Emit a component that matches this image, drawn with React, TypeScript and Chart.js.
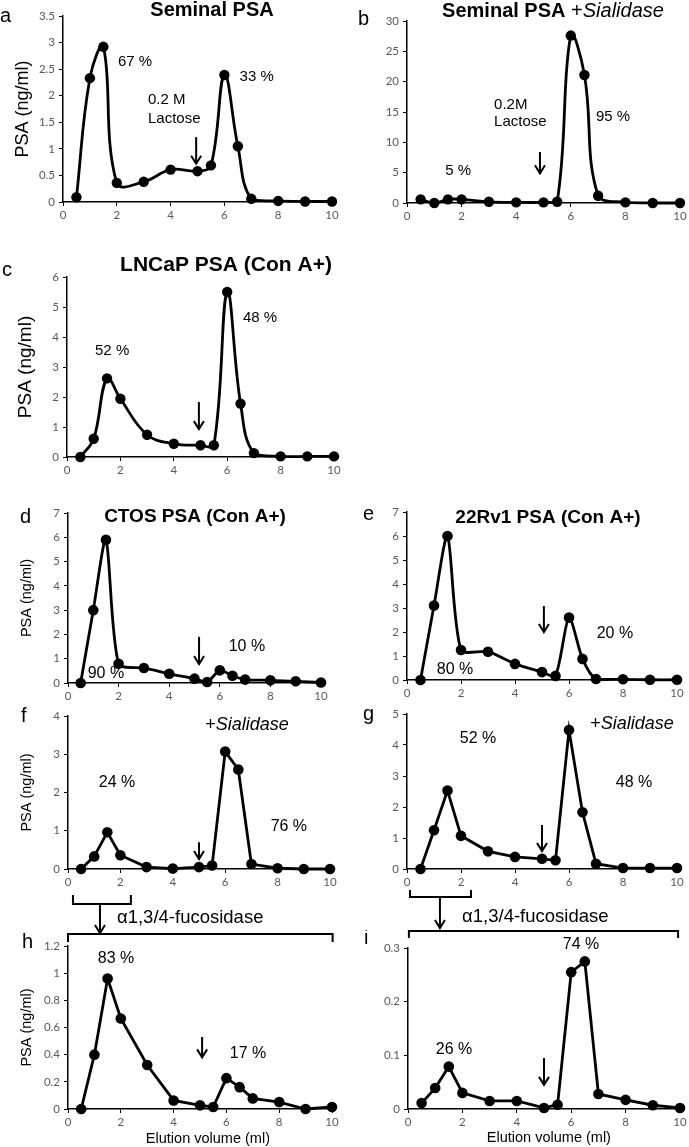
import React, { useEffect, useRef } from "react";
import { Chart, registerables } from "chart.js";

Chart.register(...registerables);

// ---------- DATA ----------
const elution = [0.5, 1, 1.5, 2, 3, 4, 5, 5.5, 6, 6.5, 7, 8, 9, 10];
const xTickValues = [0, 2, 4, 6, 8, 10];

const seminalPSA = [0.09, 2.33, 2.92, 0.36, 0.38, 0.61, 0.58, 0.69, 2.39, 1.05, 0.06, 0.02, 0.01, 0.01];
const seminalSialidase = [0.6, 0.0, 0.6, 0.6, 0.2, 0.1, 0.1, 0.2, 27.6, 21.1, 1.2, 0.1, 0.0, 0.0];
const lncapPSA = [0.0, 0.61, 2.62, 1.94, 0.74, 0.44, 0.39, 0.39, 5.5, 1.78, 0.13, 0.02, 0.02, 0.02];
const ctosPSA = [0.0, 3.0, 5.9, 0.79, 0.62, 0.38, 0.18, 0.04, 0.52, 0.3, 0.14, 0.11, 0.07, 0.02];
const rv1PSA = [0.0, 3.1, 6.0, 1.25, 1.18, 0.67, 0.33, 0.17, 2.6, 0.88, 0.04, 0.03, 0.01, 0.01];
const ctosSialidase = [0.0, 0.33, 0.96, 0.36, 0.05, 0.01, 0.05, 0.09, 3.07, 2.6, 0.13, 0.02, 0.0, 0.0];
const rv1Sialidase = [0.0, 1.25, 2.53, 1.07, 0.57, 0.39, 0.33, 0.28, 4.48, 1.83, 0.17, 0.03, 0.03, 0.03];
const ctosFucosidase = [0.0, 0.4, 0.96, 0.666, 0.324, 0.063, 0.027, 0.015, 0.227, 0.161, 0.078, 0.051, 0.0, 0.015];
const rv1Fucosidase = [0.011, 0.039, 0.079, 0.03, 0.015, 0.015, 0.002, 0.008, 0.255, 0.275, 0.028, 0.017, 0.007, 0.002];

const yAxisTitle = "PSA (ng/ml)";
const xAxisTitle = "Elution volume (ml)";
const enzymeLabel = "\u03b11,3/4-fucosidase";

// ---------- STYLE ----------
const SANS = '"Liberation Sans", Arial, sans-serif';
const TICKFONT = 'Lato, "Open Sans", sans-serif';
const TICK_COLOR = "#595959";

type Seg = { text: string; style: string };
type Note = { text: string; x: number; y: number; align?: CanvasTextAlign };
type Arrow = { x: number; y1: number; y2: number };
type Bracket = {
  x1: number; x2: number; top: number; mid: number;
  ax: number; aEnd: number;
  bx1: number; bx2: number; big: number; tickEnd: number;
  textX: number; textOff: number;
};
interface PanelDef {
  key: string;
  letter: string;
  letterPos: [number, number];
  title?: Seg[];
  titleSize?: number;
  titlePos?: [number, number];
  values: number[];
  yMax: number;
  yStep: number;
  tension: number;
  box: [number, number, number, number];
  area: [number, number, number, number];
  notes: Note[];
  noteSize: number;
  arrows: Arrow[];
  yTitle?: { size: number; x: number };
  xTitle?: { x: number; y: number };
  bracket?: Bracket;
  pointRadius: number;
}

const panels: PanelDef[] = [
  {
    key: "a", letter: "a", letterPos: [0, 22],
    title: [{ text: "Seminal PSA", style: "bold" }], titleSize: 20, titlePos: [212, 10],
    values: seminalPSA, yMax: 3.5, yStep: 0.5, tension: 0.4,
    box: [0, 0, 345, 225], area: [63, 16, 332, 202],
    notes: [
      { text: "67 %", x: 2.68, y: 2.64 },
      { text: "33 %", x: 7.2, y: 2.35 },
      { text: "0.2 M", x: 3.16, y: 1.92, align: "left" },
      { text: "Lactose", x: 3.16, y: 1.56, align: "left" },
    ],
    noteSize: 15,
    arrows: [{ x: 4.95, y1: 1.22, y2: 0.72 }],
    yTitle: { size: 18, x: 23 }, pointRadius: 5.2,
  },
  {
    key: "b", letter: "b", letterPos: [358, 25],
    title: [
      { text: "Seminal PSA ", style: "bold" },
      { text: "+", style: "" },
      { text: "Sialidase", style: "italic" },
    ],
    titleSize: 20, titlePos: [553, 11],
    values: seminalSialidase, yMax: 30, yStep: 5, tension: 0.4,
    box: [345, 0, 344, 225], area: [407, 21, 680, 203],
    notes: [
      { text: "5 %", x: 1.87, y: 5.3 },
      { text: "95 %", x: 7.55, y: 14.2 },
      { text: "0.2M", x: 3.19, y: 16.1, align: "left" },
      { text: "Lactose", x: 3.19, y: 13.3, align: "left" },
    ],
    noteSize: 15,
    arrows: [{ x: 4.87, y1: 8.4, y2: 4.9 }], pointRadius: 5.2,
  },
  {
    key: "c", letter: "c", letterPos: [2, 276],
    title: [{ text: "LNCaP PSA (Con A+)", style: "bold" }], titleSize: 21, titlePos: [226, 265],
    values: lncapPSA, yMax: 6, yStep: 1, tension: 0.4,
    box: [0, 240, 345, 240], area: [67, 277, 334, 457],
    notes: [
      { text: "52 %", x: 1.69, y: 3.53 },
      { text: "48 %", x: 7.23, y: 4.63 },
    ],
    noteSize: 15,
    arrows: [{ x: 4.94, y1: 1.83, y2: 0.93 }],
    yTitle: { size: 19, x: 26 }, pointRadius: 5.2,
  },
  {
    key: "d", letter: "d", letterPos: [20, 523],
    title: [{ text: "CTOS PSA (Con A+)", style: "bold" }], titleSize: 19, titlePos: [195, 517],
    values: ctosPSA, yMax: 7, yStep: 1, tension: 0.25,
    box: [0, 495, 345, 210], area: [68, 513, 321, 683],
    notes: [
      { text: "90 %", x: 1.5, y: 0.37 },
      { text: "10 %", x: 7.07, y: 1.48 },
    ],
    noteSize: 16,
    arrows: [{ x: 5.18, y1: 1.9, y2: 0.78 }],
    yTitle: { size: 14.5, x: 27 }, pointRadius: 5.3,
  },
  {
    key: "e", letter: "e", letterPos: [363, 520],
    title: [{ text: "22Rv1 PSA (Con A+)", style: "bold" }], titleSize: 19, titlePos: [548, 518],
    values: rv1PSA, yMax: 7, yStep: 1, tension: 0.25,
    box: [345, 495, 344, 210], area: [407, 512, 677, 680],
    notes: [
      { text: "80 %", x: 1.78, y: 0.42 },
      { text: "20 %", x: 7.7, y: 1.92 },
    ],
    noteSize: 16,
    arrows: [{ x: 5.07, y1: 3.08, y2: 2.0 }], pointRadius: 5.3,
  },
  {
    key: "f", letter: "f", letterPos: [21, 722],
    title: [{ text: "+", style: "" }, { text: "Sialidase", style: "italic" }], titleSize: 18, titlePos: [247, 725],
    values: ctosSialidase, yMax: 4, yStep: 1, tension: 0,
    box: [0, 700, 345, 250], area: [68, 716, 330, 869],
    notes: [
      { text: "24 %", x: 1.87, y: 2.27 },
      { text: "76 %", x: 8.43, y: 1.1 },
    ],
    noteSize: 16,
    arrows: [{ x: 5.0, y1: 0.7, y2: 0.26 }],
    yTitle: { size: 14.5, x: 27 }, pointRadius: 5.3,
    bracket: {
      x1: 0.19, x2: 2.4, top: 26, mid: 35, ax: 1.22, aEnd: 64,
      bx1: 0, bx2: 10.1, big: 65, tickEnd: 73, textX: 1.87, textOff: 49,
    },
  },
  {
    key: "g", letter: "g", letterPos: [363, 720],
    title: [{ text: "+", style: "" }, { text: "Sialidase", style: "italic" }], titleSize: 18, titlePos: [632, 724],
    values: rv1Sialidase, yMax: 5, yStep: 1, tension: 0,
    box: [345, 700, 344, 250], area: [407, 714, 677, 869],
    notes: [
      { text: "52 %", x: 2.63, y: 4.2 },
      { text: "48 %", x: 8.41, y: 2.8 },
    ],
    noteSize: 16,
    arrows: [{ x: 5.0, y1: 1.42, y2: 0.58 }], pointRadius: 5.3,
    bracket: {
      x1: 0.11, x2: 2.37, top: 21, mid: 28, ax: 1.22, aEnd: 59,
      bx1: 0.07, bx2: 10.04, big: 62, tickEnd: 69, textX: 2.04, textOff: 48,
    },
  },
  {
    key: "h", letter: "h", letterPos: [22, 948],
    values: ctosFucosidase, yMax: 1.2, yStep: 0.2, tension: 0,
    box: [0, 930, 345, 217], area: [68, 946, 332, 1109],
    notes: [
      { text: "83 %", x: 1.82, y: 1.11 },
      { text: "17 %", x: 6.82, y: 0.405 },
    ],
    noteSize: 16,
    arrows: [{ x: 5.08, y1: 0.53, y2: 0.38 }],
    yTitle: { size: 14.5, x: 27 }, xTitle: { x: 5.3, y: 1139 }, pointRadius: 5.3,
  },
  {
    key: "i", letter: "i", letterPos: [364, 944],
    values: rv1Fucosidase, yMax: 0.3, yStep: 0.1, tension: 0,
    box: [345, 930, 344, 217], area: [408, 948, 680, 1109],
    notes: [
      { text: "74 %", x: 6.36, y: 0.307 },
      { text: "26 %", x: 1.69, y: 0.11 },
    ],
    noteSize: 16,
    arrows: [{ x: 5.0, y1: 0.095, y2: 0.045 }],
    xTitle: { x: 5.18, y: 1138 }, pointRadius: 5.3,
  },
];

function drawArrow(ctx: CanvasRenderingContext2D, x: number, y1: number, y2: number) {
  ctx.save();
  ctx.strokeStyle = "#000";
  ctx.lineWidth = 2;
  ctx.lineCap = "butt";
  ctx.beginPath();
  ctx.moveTo(x, y1);
  ctx.lineTo(x, y2);
  ctx.stroke();
  ctx.beginPath();
  ctx.moveTo(x - 5, y2 - 8);
  ctx.lineTo(x, y2);
  ctx.lineTo(x + 5, y2 - 8);
  ctx.stroke();
  ctx.restore();
}

function makePlugin(p: PanelDef) {
  return {
    id: "annot_" + p.key,
    afterDraw(chart: any) {
      const ctx: CanvasRenderingContext2D = chart.ctx;
      const xs = chart.scales.x;
      const ys = chart.scales.y;
      const [bl, bt] = p.box;
      const area = chart.chartArea;
      ctx.save();
      ctx.fillStyle = "#000";
      ctx.strokeStyle = "#000";

      for (const n of p.notes) {
        ctx.font = `${p.noteSize}px ${SANS}`;
        ctx.textAlign = n.align ?? "center";
        ctx.textBaseline = "middle";
        ctx.fillText(n.text, xs.getPixelForValue(n.x), ys.getPixelForValue(n.y));
      }
      for (const a of p.arrows) {
        drawArrow(ctx, xs.getPixelForValue(a.x), ys.getPixelForValue(a.y1), ys.getPixelForValue(a.y2));
      }

      ctx.font = `20px ${SANS}`;
      ctx.textAlign = "left";
      ctx.textBaseline = "alphabetic";
      ctx.fillText(p.letter, p.letterPos[0] - bl, p.letterPos[1] - bt);

      if (p.title && p.titlePos) {
        const size = p.titleSize ?? 18;
        let total = 0;
        const widths: number[] = [];
        for (const s of p.title) {
          ctx.font = `${s.style} ${size}px ${SANS}`;
          const w = ctx.measureText(s.text).width;
          widths.push(w);
          total += w;
        }
        let x = p.titlePos[0] - bl - total / 2;
        const y = p.titlePos[1] - bt;
        ctx.textAlign = "left";
        ctx.textBaseline = "middle";
        p.title.forEach((s, i) => {
          ctx.font = `${s.style} ${size}px ${SANS}`;
          ctx.fillText(s.text, x, y);
          x += widths[i];
        });
      }

      if (p.yTitle) {
        ctx.save();
        ctx.translate(p.yTitle.x - bl, (area.top + area.bottom) / 2);
        ctx.rotate(-Math.PI / 2);
        ctx.font = `${p.yTitle.size}px ${SANS}`;
        ctx.textAlign = "center";
        ctx.textBaseline = "middle";
        ctx.fillText(yAxisTitle, 0, 0);
        ctx.restore();
      }

      if (p.xTitle) {
        ctx.font = `14.5px ${SANS}`;
        ctx.textAlign = "center";
        ctx.textBaseline = "middle";
        ctx.fillText(xAxisTitle, xs.getPixelForValue(p.xTitle.x), p.xTitle.y - bt);
      }

      if (p.bracket) {
        const b = p.bracket;
        const y0 = area.bottom;
        ctx.lineWidth = 2;
        const s1 = xs.getPixelForValue(b.x1);
        const s2 = xs.getPixelForValue(b.x2);
        ctx.beginPath();
        ctx.moveTo(s1, y0 + b.top);
        ctx.lineTo(s1, y0 + b.mid);
        ctx.lineTo(s2, y0 + b.mid);
        ctx.lineTo(s2, y0 + b.top);
        ctx.stroke();
        drawArrow(ctx, xs.getPixelForValue(b.ax), y0 + b.mid, y0 + b.aEnd);
        const g1 = xs.getPixelForValue(b.bx1);
        const g2 = xs.getPixelForValue(b.bx2);
        ctx.beginPath();
        ctx.moveTo(g1, y0 + b.tickEnd);
        ctx.lineTo(g1, y0 + b.big);
        ctx.lineTo(g2, y0 + b.big);
        ctx.lineTo(g2, y0 + b.tickEnd);
        ctx.stroke();
        ctx.font = `18.5px ${SANS}`;
        ctx.textAlign = "left";
        ctx.textBaseline = "middle";
        ctx.fillText(enzymeLabel, xs.getPixelForValue(b.textX), y0 + b.textOff);
      }
      ctx.restore();
    },
  };
}

function fmt(v: number): string {
  return String(Math.round(v * 100) / 100);
}

function Panel({ p }: { p: PanelDef }) {
  const ref = useRef<HTMLCanvasElement>(null);
  useEffect(() => {
    const [bl, bt, bw, bh] = p.box;
    const [al, at, ar, ab] = p.area;
    const tickFont = { family: TICKFONT, size: 11.5 };
    const chart = new Chart(ref.current as HTMLCanvasElement, {
      type: "line",
      data: {
        datasets: [
          {
            data: elution.map((x, i) => ({ x, y: p.values[i] })),
            borderColor: "#000",
            backgroundColor: "#000",
            borderWidth: 2.8,
            pointRadius: p.pointRadius,
            pointHoverRadius: p.pointRadius,
            pointBackgroundColor: "#000",
            pointBorderColor: "#000",
            pointBorderWidth: 0,
            tension: p.tension,
            fill: false,
            clip: false as any,
          } as any,
        ],
      },
      options: {
        responsive: false,
        animation: false,
        devicePixelRatio: 1,
        events: [],
        layout: { padding: { left: 0, top: at - bt, right: bl + bw - ar, bottom: 0 } },
        plugins: { legend: { display: false }, tooltip: { enabled: false }, title: { display: false } },
        scales: {
          x: {
            type: "linear",
            min: 0,
            max: 10,
            afterFit: (s: any) => {
              s.height = bt + bh - ab;
            },
            afterBuildTicks: (s: any) => {
              s.ticks = xTickValues.map((v) => ({ value: v }));
            },
            ticks: { color: TICK_COLOR, font: tickFont, padding: 2, maxRotation: 0, autoSkip: false, callback: (v: any) => fmt(Number(v)) },
            grid: { display: true, drawOnChartArea: false, drawTicks: true, tickLength: 4, color: "#000", lineWidth: 1 },
            border: { display: true, color: "#000", width: 1.5 },
          },
          y: {
            type: "linear",
            min: 0,
            max: p.yMax,
            afterFit: (s: any) => {
              s.width = al - bl;
            },
            ticks: { stepSize: p.yStep, color: TICK_COLOR, font: tickFont, padding: 4, autoSkip: false, callback: (v: any) => fmt(Number(v)) },
            grid: { display: true, drawOnChartArea: false, drawTicks: true, tickLength: 4, color: "#000", lineWidth: 1 },
            border: { display: true, color: "#000", width: 1.5 },
          },
        },
      } as any,
      plugins: [makePlugin(p)],
    });
    return () => chart.destroy();
  }, [p]);
  const [bl, bt, bw, bh] = p.box;
  return (
    <canvas
      ref={ref}
      width={bw}
      height={bh}
      style={{ position: "absolute", left: bl, top: bt, width: bw, height: bh }}
    />
  );
}

export default function App() {
  return (
    <div style={{ position: "absolute", left: 0, top: 0, width: 689, height: 1147, background: "#fff", overflow: "hidden" }}>
      {panels.map((p) => (
        <Panel key={p.key} p={p} />
      ))}
    </div>
  );
}
